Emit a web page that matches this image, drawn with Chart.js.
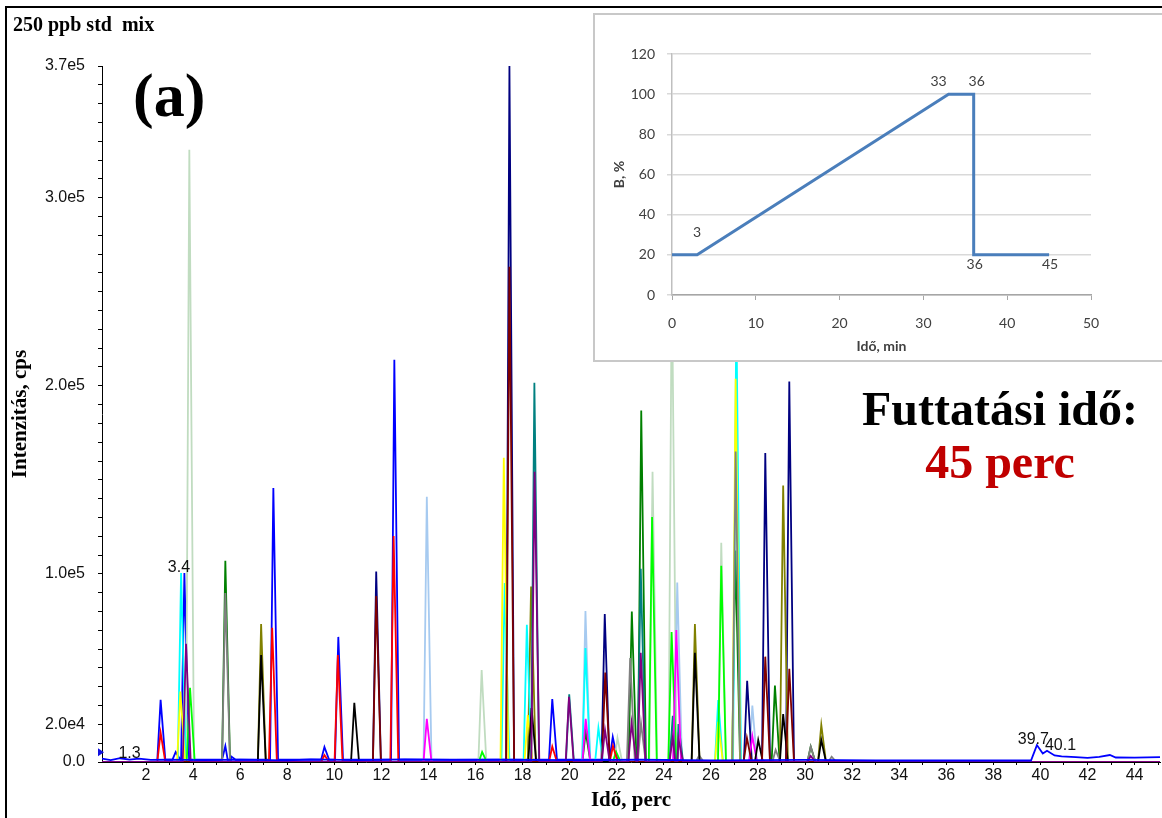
<!DOCTYPE html>
<html>
<head>
<meta charset="utf-8">
<title>250 ppb std mix</title>
<script src="https://cdn.jsdelivr.net/npm/chart.js@4.4.1/dist/chart.umd.min.js"></script>
<style>
  html, body { margin: 0; padding: 0; background: #fff; }
  #wrap { position: relative; width: 1162px; height: 818px; overflow: hidden; background: #fff; }
  #frame { position: absolute; left: 5px; top: 6px; width: 1300px; height: 900px; border-left: 2px solid #000; border-top: 2px solid #000; }
  #main { position: absolute; left: 0; top: 0; }
  #insetBox { position: absolute; left: 593px; top: 13px; width: 700px; height: 345px; background: #fff; border: 2px solid #c8c8c8; border-right: none; }
  #inset { position: absolute; left: 595px; top: 15px; }
  .txt { position: absolute; font-family: "Liberation Serif", "Times New Roman", serif; font-weight: bold; white-space: nowrap; line-height: 1; color: #000; }
</style>
</head>
<body>
<div id="wrap">
  <div id="frame"></div>
  <canvas id="main" width="1162" height="818"></canvas>
  <div class="txt" style="left:13px; top:14px; font-size:20px;">250 ppb std&nbsp; mix</div>
  <div class="txt" style="left:133px; top:64px; font-size:62px;">(a)</div>
  <div id="insetBox"></div>
  <canvas id="inset" width="567" height="345"></canvas>
  <div class="txt" style="left:800px; width:400px; text-align:center; top:385px; font-size:48px;">Futtatási idő:</div>
  <div class="txt" style="left:800px; width:400px; text-align:center; top:438px; font-size:48px; color:#c00000;">45 perc</div>
</div>

<script>
// ---- chromatogram data: [retention time (min), intensity (cps)] ----
const bluePeaks = [[2.62, 33000], [3.26, 5300], [3.63, 100500], [5.37, 8500], [5.61, 3000], [7.41, 145700],
  [9.58, 8000], [10.17, 66500], [12.55, 213800], [19.26, 33500], [21.83, 13300]];
const blueBaseline = [[0.13, 1800], [0.5, 1000], [0.9, 2000], [1.3, 1300], [1.7, 1800], [2.2, 1100], [3.0, 1300],
  [4.5, 1000], [6.0, 1300], [8.0, 900], [9.0, 1400], [11.0, 1000], [13.0, 1400], [15.0, 1100], [17.0, 1200],
  [20.0, 1000], [23.0, 1200], [26.0, 900], [30.0, 1100], [33.0, 800], [36.0, 800], [39.6, 800],
  [39.85, 9000], [40.1, 4500], [40.28, 6000], [40.6, 3500], [40.9, 3000], [41.5, 2600], [42.0, 2200],
  [42.5, 2700], [42.95, 3700], [43.2, 2400], [44.0, 2300], [45.08, 2600]];
const redPeaks = [[2.62, 15600], [7.36, 71300], [9.58, 3700], [10.15, 56900], [12.52, 120200], [19.26, 8200], [21.84, 8500]];
const limePeaks = [[3.87, 39400], [16.28, 5300], [21.97, 5500], [23.5, 130300], [24.33, 69100], [26.44, 104300]];
const blackPeaks = [[6.89, 56900], [10.85, 31500], [18.38, 28700], [25.32, 58000], [28.01, 11700], [29.07, 25500], [30.69, 11700]];
const yellowPeaks = [[3.46, 37400], [17.2, 161700], [18.22, 25000], [26.31, 21400], [27.05, 203700]];
const cyanPeaks = [[3.49, 100500], [17.24, 95200], [18.18, 72900], [20.67, 60600], [21.22, 18100], [26.31, 33000], [27.08, 240000]];
const magentaPeaks = [[13.93, 22900], [20.68, 22900], [24.53, 70200], [27.76, 13800]];
const purplePeaks = [[3.7, 62800], [18.51, 154300], [19.97, 34600], [21.5, 17000], [22.63, 20700], [23.02, 58000],
  [24.38, 13300], [24.62, 12200], [30.24, 3200]];
const maroonPeaks = [[11.78, 88300], [17.44, 263300], [21.51, 47500], [27.53, 12800], [28.31, 56000], [29.33, 49500]];
const navyPeaks = [[11.78, 101200], [17.44, 370000], [21.49, 78700], [27.54, 43200], [28.31, 164200], [29.33, 202300]];
const olivePeaks = [[6.89, 73400], [18.36, 93300], [25.32, 73400], [29.07, 147000], [30.69, 19700]];
const tealPeaks = [[18.5, 201600], [19.98, 36000], [23.02, 102700], [24.38, 24500], [24.62, 20200]];
const grayPeaks = [[5.37, 89800], [22.57, 55300], [23.03, 20700], [25.5, 3500], [27.05, 165000], [28.75, 6400], [30.24, 8200], [31.13, 2800]];
const darkGreenPeaks = [[5.37, 107000], [20.68, 16100], [22.64, 80000], [23.04, 186900], [27.04, 112400], [28.72, 40600], [30.24, 8200]];
const lightGreenPeaks = [[3.84, 325500], [16.26, 48900], [22.03, 12800], [23.52, 154300], [24.34, 260000], [26.44, 116600]];
const lightBluePeaks = [[13.93, 141000], [20.67, 80300], [24.57, 95400], [27.76, 30000]];

const peakLabels = [['1.3', 1.3, 1800], ['3.4', 3.4, 100500], ['39.7', 39.7, 9000], ['40.1', 40.1, 6000]];
const markerLevel = 5200;

const xRange = [0.13, 45.08];
const xTickValues = [1, 2, 3, 4, 5, 6, 7, 8, 9, 10, 11, 12, 13, 14, 15, 16, 17, 18, 19, 20, 21, 22, 23,
  24, 25, 26, 27, 28, 29, 30, 31, 32, 33, 34, 35, 36, 37, 38, 39, 40, 41, 42, 43, 44, 45];
const yMax = 370000;
const yTickStep = 10000;
const yLabelValues = [0, 20000, 100000, 200000, 300000, 370000];
const yLabelTexts = ['0.0', '2.0e4', '1.0e5', '2.0e5', '3.0e5', '3.7e5'];

// ---- gradient program (inset) ----
const gradientTime = [0, 3, 33, 36, 36, 45];
const gradientB = [20, 20, 100, 100, 20, 20];
const gradientLabels = ['', '3', '33', '36', '36', '45'];

// drawing order: first entry ends up on top
const traces = [
  { peaks: [], baseline: blueBaseline, color: '#0000ff' },
  { peaks: purplePeaks, color: '#800080' },
  { peaks: maroonPeaks, color: '#800000' },
  { peaks: blackPeaks, color: '#000000' },
  { peaks: grayPeaks, color: '#808080' },
  { peaks: redPeaks, color: '#ff0000' },
  { peaks: magentaPeaks, color: '#ff00ff' },
  { peaks: tealPeaks, color: '#008080' },
  { peaks: limePeaks, color: '#00ff00' },
  { peaks: yellowPeaks, color: '#ffff00' },
  { peaks: cyanPeaks, color: '#00ffff' },
  { peaks: olivePeaks, color: '#808000' },
  { peaks: darkGreenPeaks, color: '#008000' },
  { peaks: navyPeaks, color: '#000080' },
  { peaks: lightBluePeaks, color: '#a6caf0' },
  { peaks: lightGreenPeaks, color: '#c0dcc0' },
  { peaks: bluePeaks, baseLevel: 1200, color: '#0000ff' }
];

const halfLeft = 0.14, halfRight = 0.2;

function buildTrace(tr) {
  const base = tr.baseLevel || 0;
  let pts = [];
  if (tr.baseline) {
    tr.baseline.forEach(b => pts.push({ x: b[0], y: b[1] }));
  } else if (!tr.baseLevel) {
    pts.push({ x: xRange[0], y: 0 }, { x: xRange[1], y: 0 });
  }
  tr.peaks.forEach(p => {
    pts.push({ x: p[0] - halfLeft, y: base }, { x: p[0], y: p[1] }, { x: p[0] + halfRight, y: base });
  });
  pts.sort((a, b) => a.x - b.x);
  return pts;
}

const datasets = traces.map(tr => ({
  data: buildTrace(tr),
  borderColor: tr.color,
  borderWidth: 1.8,
  pointRadius: 0,
  tension: 0,
  fill: false
}));

const annotate = {
  id: 'annotate',
  afterDatasetsDraw(chart) {
    const { ctx, chartArea } = chart;
    const x = chart.scales.x, y = chart.scales.y;
    ctx.save();
    ctx.font = '16px "Liberation Sans", Arial, sans-serif';
    ctx.fillStyle = '#111';
    ctx.textBaseline = 'bottom';
    ctx.textAlign = 'left';
    let prevRight = -Infinity;
    peakLabels.forEach(([text, t, v]) => {
      const w = ctx.measureText(text).width;
      let left = x.getPixelForValue(t) - w / 2;
      if (left < prevRight - 4) left = prevRight - 4;
      ctx.fillText(text, left, y.getPixelForValue(v) + 3);
      prevRight = left + w;
    });
    const my = y.getPixelForValue(markerLevel);
    ctx.fillStyle = '#1010e0';
    ctx.beginPath();
    ctx.moveTo(chartArea.left - 4, my - 4);
    ctx.lineTo(chartArea.left + 2, my);
    ctx.lineTo(chartArea.left - 4, my + 4);
    ctx.closePath();
    ctx.fill();
    ctx.restore();
  }
};

new Chart(document.getElementById('main'), {
  type: 'line',
  data: { datasets: datasets },
  options: {
    responsive: false,
    animation: false,
    devicePixelRatio: 1,
    layout: { padding: { top: 66, right: 2, left: 0, bottom: 0 } },
    plugins: { legend: { display: false }, tooltip: { enabled: false } },
    scales: {
      x: {
        type: 'linear',
        min: xRange[0],
        max: xRange[1],
        afterBuildTicks: s => { s.ticks = xTickValues.map(v => ({ value: v })); },
        afterFit: s => { s.height = 56; },
        ticks: {
          autoSkip: false,
          maxRotation: 0,
          padding: 1,
          color: '#111',
          font: { family: '"Liberation Sans", Arial, sans-serif', size: 16 },
          callback: v => (v % 2 === 0 ? String(v) : '')
        },
        grid: { drawOnChartArea: false, drawTicks: true, tickLength: 3, color: '#000' },
        border: { display: true, color: '#000', width: 1 },
        title: {
          display: true,
          text: 'Idő, perc',
          color: '#000',
          font: { family: '"Liberation Serif", "Times New Roman", serif', size: 21, weight: 'bold' },
          padding: { top: 0, bottom: 5 }
        }
      },
      y: {
        type: 'linear',
        min: 0,
        max: yMax,
        afterBuildTicks: s => {
          const t = [];
          for (let v = 0; v <= yMax; v += yTickStep) t.push({ value: v });
          s.ticks = t;
        },
        afterFit: s => { s.width = 102; },
        ticks: {
          autoSkip: false,
          padding: 13,
          color: '#111',
          font: { family: '"Liberation Sans", Arial, sans-serif', size: 16 },
          callback: v => {
            const i = yLabelValues.indexOf(v);
            return i >= 0 ? yLabelTexts[i] : '';
          }
        },
        grid: { drawOnChartArea: false, drawTicks: true, tickLength: 4, color: '#000' },
        border: { display: true, color: '#000', width: 1 },
        title: {
          display: true,
          text: 'Intenzitás, cps',
          color: '#000',
          font: { family: '"Liberation Serif", "Times New Roman", serif', size: 21, weight: 'bold' },
          padding: { top: 8, bottom: 0 }
        }
      }
    }
  },
  plugins: [annotate]
});

// ---- inset: gradient profile ----
const insetFont = { family: 'Lato, "Open Sans", sans-serif', size: 14 };
const labelOffsets = [[0, 0], [0, -22], [-10, -13], [3, -13], [1, 10], [1, 10]];

const gradientLabelPlugin = {
  id: 'gradLabels',
  afterDatasetsDraw(chart) {
    const { ctx } = chart;
    const x = chart.scales.x, y = chart.scales.y;
    ctx.save();
    ctx.font = '14px Lato, "Open Sans", sans-serif';
    ctx.fillStyle = '#404040';
    ctx.textAlign = 'center';
    ctx.textBaseline = 'middle';
    gradientLabels.forEach((txt, i) => {
      if (!txt) return;
      ctx.fillText(txt, x.getPixelForValue(gradientTime[i]) + labelOffsets[i][0],
        y.getPixelForValue(gradientB[i]) + labelOffsets[i][1]);
    });
    ctx.restore();
  }
};

new Chart(document.getElementById('inset'), {
  type: 'line',
  data: {
    datasets: [{
      data: gradientTime.map((t, i) => ({ x: t, y: gradientB[i] })),
      borderColor: '#4a7ebb',
      borderWidth: 3,
      pointRadius: 0,
      tension: 0,
      fill: false
    }]
  },
  options: {
    responsive: false,
    animation: false,
    devicePixelRatio: 1,
    layout: { padding: { top: 39, right: 71, left: 0, bottom: 0 } },
    plugins: { legend: { display: false }, tooltip: { enabled: false } },
    scales: {
      x: {
        type: 'linear',
        min: 0,
        max: 50,
        afterFit: s => { s.height = 65; },
        ticks: { stepSize: 10, padding: 15, color: '#404040', font: insetFont, maxRotation: 0 },
        grid: { drawOnChartArea: false, drawTicks: true, tickLength: 5, color: '#a6a6a6' },
        border: { display: true, color: '#a6a6a6', width: 1.5 },
        title: {
          display: true,
          text: 'Idő, min',
          color: '#404040',
          font: { family: 'Lato, "Open Sans", sans-serif', size: 14, weight: 'bold' },
          padding: { top: 0, bottom: 5 }
        }
      },
      y: {
        type: 'linear',
        min: 0,
        max: 120,
        afterFit: s => { s.width = 77; },
        ticks: { stepSize: 20, padding: 12, color: '#404040', font: insetFont },
        grid: { color: '#d9d9d9', lineWidth: 1.5, drawTicks: true, tickLength: 5 },
        border: { display: true, color: '#bfbfbf', width: 1.5 },
        title: {
          display: true,
          text: 'B, %',
          color: '#404040',
          font: { family: 'Lato, "Open Sans", sans-serif', size: 14, weight: 'bold' },
          padding: { top: 16, bottom: 0 }
        }
      }
    }
  },
  plugins: [gradientLabelPlugin]
});
</script>
</body>
</html>
